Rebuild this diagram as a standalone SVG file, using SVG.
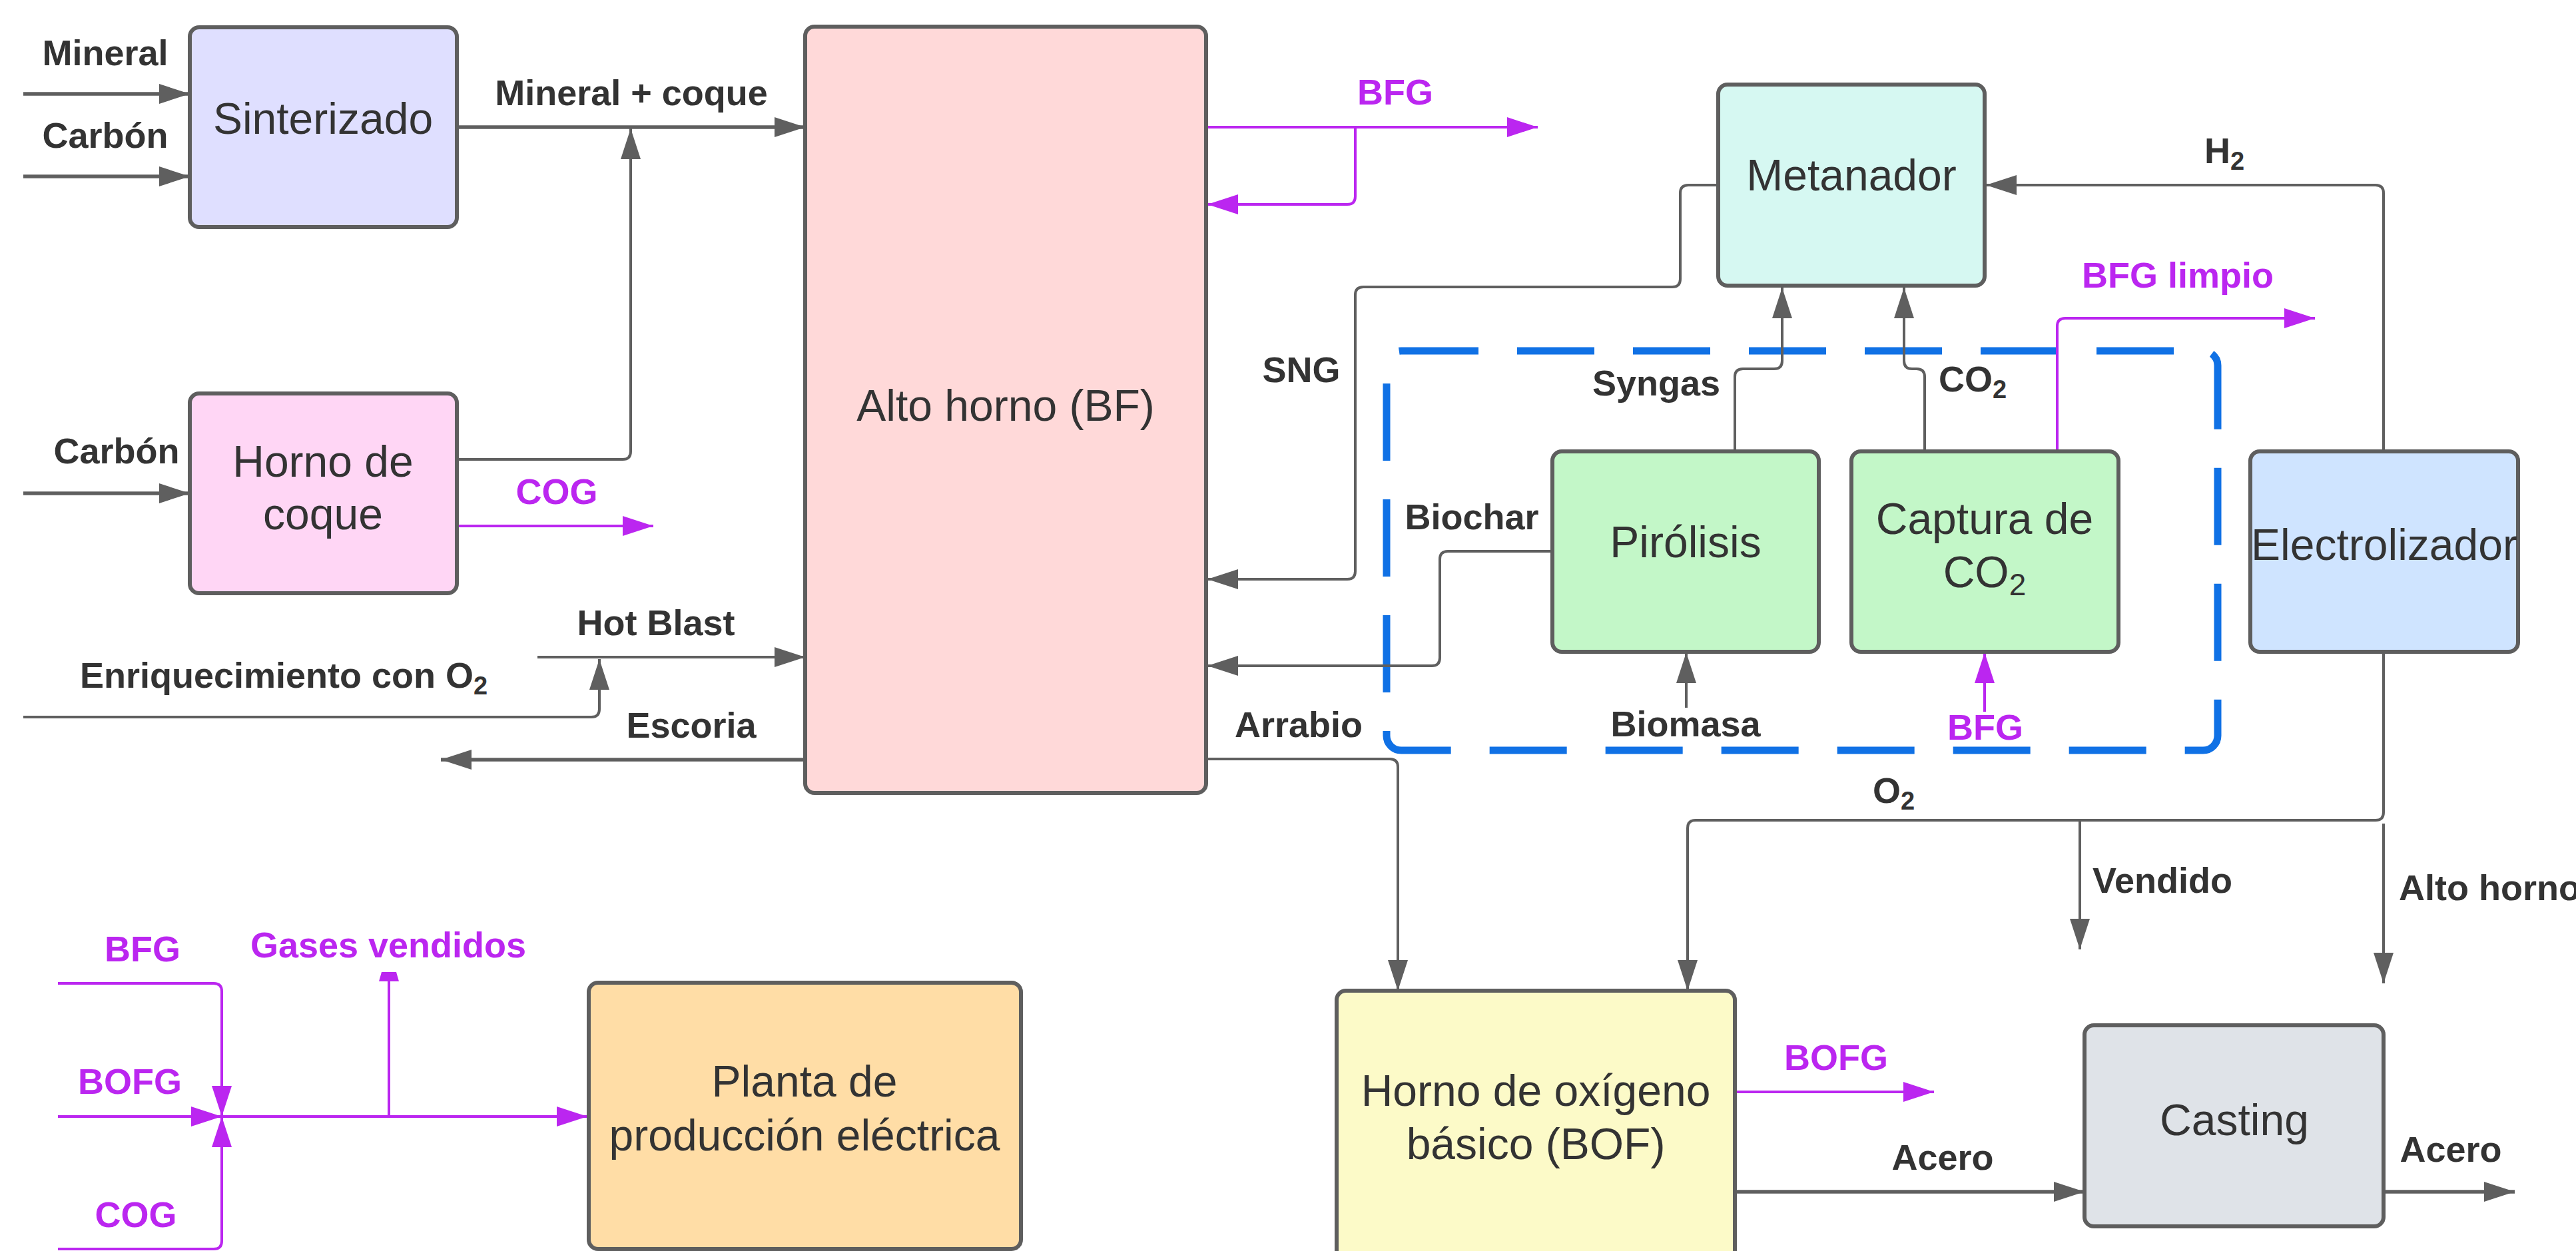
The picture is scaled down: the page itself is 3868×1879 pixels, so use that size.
<svg xmlns="http://www.w3.org/2000/svg" width="3868" height="1879" viewBox="0 0 3868 1879">
<style>
.node{stroke:#5e5e5e;stroke-width:6}
.nt{font-family:"Liberation Sans",Arial,sans-serif;font-size:66px;fill:#333333;text-anchor:middle}
.lb{font-family:"Liberation Sans",Arial,sans-serif;font-size:54px;font-weight:bold;fill:#333333;text-anchor:middle}
.lm{fill:#bb26f0}
.st{text-anchor:start}
.c{fill:none;stroke:#5f5f5f;stroke-width:4}
.ch{stroke-width:5.5}
.cm{fill:none;stroke:#bb26f0;stroke-width:4}
.ag{marker-end:url(#ag)}
.am{marker-end:url(#am)}
</style>
<defs>
<marker id="ag" markerWidth="46" markerHeight="30" refX="46" refY="15" orient="auto" markerUnits="userSpaceOnUse"><path d="M0,0 L46,15 L0,30 z" fill="#5f5f5f"/></marker>
<marker id="am" markerWidth="46" markerHeight="30" refX="46" refY="15" orient="auto" markerUnits="userSpaceOnUse"><path d="M0,0 L46,15 L0,30 z" fill="#bb26f0"/></marker>
<marker id="at" markerWidth="14" markerHeight="30" refX="14" refY="15" orient="auto" markerUnits="userSpaceOnUse"><path d="M0,0 L14,4 L14,26 L0,30 z" fill="#bb26f0"/></marker>
</defs>
<rect width="3868" height="1879" fill="#ffffff"/>

<g id="grupo-biomasa">
<rect x="2082" y="527" width="1248" height="600" rx="22" fill="none" stroke="#1071e5" stroke-width="11" stroke-dasharray="116 58"/>
</g>

<g id="connectors">
<path class="c ch ag" d="M35,141 H285"/>
<path class="c ch ag" d="M35,265 H285"/>
<path class="c ch ag" d="M686,191 H1209"/>
<path class="c ag" d="M686,690 H935 Q947,690 947,678 V193"/>
<path class="c ch ag" d="M35,741 H285"/>
<path class="cm ch am" d="M686,790 H981"/>
<path class="c ag" d="M807,987 H1209"/>
<path class="c ag" d="M35,1077 H888 Q900,1077 900,1065 V990"/>
<path class="c ch ag" d="M1209,1141 H662"/>
<path class="cm ch am" d="M1811,191 H2309"/>
<path class="cm ch am" d="M2035,191 V295 Q2035,307 2023,307 H1813"/>
<path class="c ag" d="M2579,278 H2535 Q2523,278 2523,290 V419 Q2523,431 2511,431 H2047 Q2035,431 2035,443 V858 Q2035,870 2023,870 H1813"/>
<path class="c ag" d="M2331,828 H2174 Q2162,828 2162,840 V988 Q2162,1000 2150,1000 H1813"/>
<path class="c ag" d="M2605,677 V566 Q2605,554 2617,554 H2664 Q2676,554 2676,542 V432"/>
<path class="c ag" d="M2890,677 V566 Q2890,554 2878,554 H2871 Q2859,554 2859,542 V432"/>
<path class="cm am" d="M3089,677 V490 Q3089,478 3101,478 H3476"/>
<path class="c ag" d="M3579,677 V290 Q3579,278 3567,278 H2982"/>
<path class="c ag" d="M3579,979 V1220 Q3579,1232 3567,1232 H2546 Q2534,1232 2534,1244 V1488"/>
<path class="c ag" d="M3123,1232 V1426"/>
<path class="c ag" d="M3579,1237 V1477"/>
<path class="c ag" d="M1811,1140 H2087 Q2099,1140 2099,1152 V1488"/>
<path class="c ag" d="M2532,1063 V980"/>
<path class="cm am" d="M2980,1069 V980"/>
<path class="cm ch am" d="M2605,1640 H2904"/>
<path class="c ch ag" d="M2605,1790 H3130"/>
<path class="c ch ag" d="M3579,1790 H3776"/>
<path class="cm am" d="M87,1477 H321 Q333,1477 333,1489 V1677"/>
<path class="cm am" d="M87,1677 H333"/>
<path class="cm am" d="M87,1876 H321 Q333,1876 333,1864 V1677"/>
<path class="cm am" d="M333,1677 H882"/>
<path class="cm" d="M584,1677 V1460" marker-end="url(#at)"/>
</g>

<g id="labels">
<text class="lb" x="158" y="98">Mineral</text>
<text class="lb" x="158" y="222">Carbón</text>
<text class="lb" x="948" y="158">Mineral + coque</text>
<text class="lb" x="175" y="696">Carbón</text>
<text class="lb lm" x="836" y="757">COG</text>
<text class="lb" x="985" y="954">Hot Blast</text>
<text class="lb st" x="120" y="1033">Enriquecimiento con O<tspan font-size="38" dy="10">2</tspan></text>
<text class="lb" x="1038" y="1108">Escoria</text>
<text class="lb lm" x="2095" y="157">BFG</text>
<text class="lb" x="1954" y="574">SNG</text>
<text class="lb" x="2487" y="594">Syngas</text>
<text class="lb st" x="2911" y="588">CO<tspan font-size="38" dy="10">2</tspan></text>
<text class="lb" x="2210" y="795">Biochar</text>
<text class="lb lm" x="3270" y="432">BFG limpio</text>
<text class="lb st" x="3310" y="245">H<tspan font-size="38" dy="10">2</tspan></text>
<text class="lb" x="2531" y="1106">Biomasa</text>
<text class="lb lm" x="2981" y="1111">BFG</text>
<text class="lb" x="1950" y="1107">Arrabio</text>
<text class="lb st" x="2812" y="1206">O<tspan font-size="38" dy="10">2</tspan></text>
<text class="lb st" x="3142" y="1341">Vendido</text>
<text class="lb st" x="3602" y="1352">Alto horno</text>
<text class="lb lm" x="2757" y="1607">BOFG</text>
<text class="lb" x="2917" y="1757">Acero</text>
<text class="lb" x="3680" y="1745">Acero</text>
<text class="lb lm" x="214" y="1444">BFG</text>
<text class="lb lm" x="583" y="1438">Gases vendidos</text>
<text class="lb lm" x="195" y="1643">BOFG</text>
<text class="lb lm" x="204" y="1843">COG</text>
</g>

<g id="sinterizado">
<rect class="node" x="285" y="41" width="401" height="300" rx="14" fill="#dfdfff"/>
<text class="nt" x="485" y="201">Sinterizado</text>
</g>
<g id="horno-coque">
<rect class="node" x="285" y="591" width="401" height="300" rx="14" fill="#ffd6f5"/>
<text class="nt" x="485" y="716">Horno de</text>
<text class="nt" x="485" y="795">coque</text>
</g>
<g id="alto-horno">
<rect class="node" x="1209" y="40" width="602" height="1151" rx="14" fill="#ffd9d9"/>
<text class="nt" x="1510" y="632">Alto horno (BF)</text>
</g>
<g id="metanador">
<rect class="node" x="2580" y="127" width="400" height="302" rx="14" fill="#d6f8f2"/>
<text class="nt" x="2780" y="286">Metanador</text>
</g>
<g id="pirolisis">
<rect class="node" x="2331" y="678" width="400" height="301" rx="14" fill="#c3f7c8"/>
<text class="nt" x="2531" y="837">Pirólisis</text>
</g>
<g id="captura">
<rect class="node" x="2780" y="678" width="401" height="301" rx="14" fill="#c3f7c8"/>
<text class="nt" x="2980" y="802">Captura de</text>
<text class="nt" x="2980" y="882">CO<tspan font-size="46" dy="12">2</tspan></text>
</g>
<g id="electrolizador">
<rect class="node" x="3379" y="678" width="402" height="301" rx="14" fill="#cfe4ff"/>
<text class="nt" x="3580" y="841">Electrolizador</text>
</g>
<g id="bof">
<rect class="node" x="2007" y="1488" width="598" height="420" rx="14" fill="#fcfac8"/>
<text class="nt" x="2306" y="1661">Horno de oxígeno</text>
<text class="nt" x="2306" y="1741">básico (BOF)</text>
</g>
<g id="casting">
<rect class="node" x="3130" y="1540" width="449" height="302" rx="14" fill="#dfe3e8"/>
<text class="nt" x="3355" y="1705">Casting</text>
</g>
<g id="planta">
<rect class="node" x="884" y="1476" width="649" height="400" rx="14" fill="#ffdda6"/>
<text class="nt" x="1208" y="1647">Planta de</text>
<text class="nt" x="1208" y="1728">producción eléctrica</text>
</g>
</svg>
